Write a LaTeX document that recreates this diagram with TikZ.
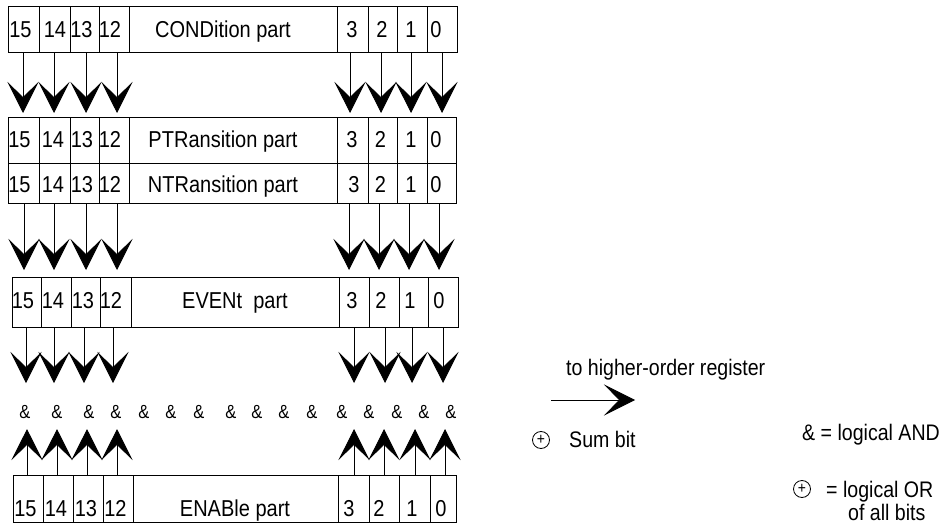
\documentclass[tikz,border=0pt]{standalone}
\usepackage{fontspec}
\setmainfont[FakeStretch=0.87]{Liberation Sans}
\usetikzlibrary{arrows.meta}
\tikzset{
  regbox/.style={draw, line width=1pt},
  bittxt/.style={anchor=base, inner sep=0pt, font=\fontsize{23}{24}\selectfont},
  andtxt/.style={anchor=base, inner sep=0pt, font=\fontsize{19}{20}\selectfont},
  legtxt/.style={anchor=base west, inner sep=0pt, font=\fontsize{22.5}{24}\selectfont},
  bitarrow/.style={line width=0.8pt, -{Stealth[length=31pt,width=31pt,inset=15pt]}},
  orsym/.style={circle, draw, line width=0.8pt, inner sep=0pt, minimum size=17pt, font=\fontsize{16}{16}\selectfont}
}
\begin{document}
\begin{tikzpicture}[x=1pt,y=-1pt]
\useasboundingbox (0,0) rectangle (946,527);

% ---------- CONDition ----------
\draw[regbox] (8,7) rectangle (457,53);
\foreach \x in {39,70,99,129,337,368,397,427} \draw[regbox] (\x,7) -- (\x,53);
\node[bittxt] (c15) at (20.5,38) {15};
\node[bittxt] (c14) at (55,38) {14};
\node[bittxt] (c13) at (81.5,38) {13};
\node[bittxt] (c12) at (110,38) {12};
\node[bittxt] (cname) at (223,38) {CONDition part};
\node[bittxt] (c3) at (352,38) {3};
\node[bittxt] (c2) at (382,38) {2};
\node[bittxt] (c1) at (411,38) {1};
\node[bittxt] (c0) at (436,38) {0};

% ---------- PTRansition / NTRansition ----------
\draw[regbox] (8,118) rectangle (456,203);
\draw[regbox] (8,163) -- (456,163);
\foreach \x in {39,70,99,129,337,368,397,427} \draw[regbox] (\x,118) -- (\x,203);
\node[bittxt] (p15) at (19.5,147) {15};
\node[bittxt] (p14) at (53,147) {14};
\node[bittxt] (p13) at (82,147) {13};
\node[bittxt] (p12) at (110,147) {12};
\node[bittxt] (pname) at (223,147) {PTRansition part};
\node[bittxt] (p3) at (352,147) {3};
\node[bittxt] (p2) at (380.5,147) {2};
\node[bittxt] (p1) at (411,147) {1};
\node[bittxt] (p0) at (436,147) {0};
\node[bittxt] (n15) at (19.5,192) {15};
\node[bittxt] (n14) at (53,192) {14};
\node[bittxt] (n13) at (82,192) {13};
\node[bittxt] (n12) at (110,192) {12};
\node[bittxt] (nname) at (223,192) {NTRansition part};
\node[bittxt] (n3) at (354,192) {3};
\node[bittxt] (n2) at (380.5,192) {2};
\node[bittxt] (n1) at (411,192) {1};
\node[bittxt] (n0) at (436,192) {0};

% ---------- EVENt ----------
\draw[regbox] (12,277) rectangle (458,327);
\foreach \x in {41,71,100,131,339,369,399,428} \draw[regbox] (\x,277) -- (\x,327);
\node[bittxt] (e15) at (23,308) {15};
\node[bittxt] (e14) at (53,308) {14};
\node[bittxt] (e13) at (83,308) {13};
\node[bittxt] (e12) at (111,308) {12};
\node[bittxt] (ename) at (235,308) {EVENt\ \ part};
\node[bittxt] (e3) at (352,308) {3};
\node[bittxt] (e2) at (381,308) {2};
\node[bittxt] (e1) at (410,308) {1};
\node[bittxt] (e0) at (439,308) {0};

% ---------- ENABle ----------
\draw[regbox] (13,475) rectangle (456,522);
\foreach \x in {43,73,103,133,338,369,399,430} \draw[regbox] (\x,475) -- (\x,522);
\node[bittxt] (b15) at (25.5,516) {15};
\node[bittxt] (b14) at (56,516) {14};
\node[bittxt] (b13) at (86,516) {13};
\node[bittxt] (b12) at (115.5,516) {12};
\node[bittxt] (bname) at (235,516) {ENABle part};
\node[bittxt] (b3) at (349,516) {3};
\node[bittxt] (b2) at (379,516) {2};
\node[bittxt] (b1) at (412,516) {1};
\node[bittxt] (b0) at (441,516) {0};

% ---------- & row ----------
\foreach \x [count=\i] in {25,57,89,116,144,171,199,231,257,284,312,342,369,397,424,451}
  \node[andtxt] (and\i) at (\x,418) {\&};

% ---------- arrows ----------
\foreach \x [count=\i] in {23,54,86,117,350,381,411,442} {
  \coordinate (ca\i) at (\x,53); \coordinate (ct\i) at (\x,113);
  \draw[bitarrow] (ca\i) -- (ct\i);
}
\foreach \x [count=\i] in {24,54,86,117,349,379,409,439} {
  \coordinate (na\i) at (\x,203); \coordinate (nt\i) at (\x,270);
  \draw[bitarrow] (na\i) -- (nt\i);
}
\foreach \x [count=\i] in {26,54,84,113,354,385,412,443} {
  \coordinate (ea\i) at (\x,327); \coordinate (et\i) at (\x,383);
  \draw[bitarrow] (ea\i) -- (et\i);
}
\foreach \x [count=\i] in {27,57,87,117,354,384,415,445} {
  \coordinate (ba\i) at (\x,475); \coordinate (bt\i) at (\x,429);
  \draw[bitarrow] (ba\i) -- (bt\i);
}

% ---------- legend ----------
\node[legtxt] (higher) at (566,375) {to higher-order register};
\coordinate (hs) at (551,400);
\coordinate (he) at (635,400);
\draw[bitarrow] (hs) -- (he);
\node[orsym] (sumsym) at (541,440) {+};
\node[legtxt] (sumbit) at (569,447) {Sum bit};
\node[legtxt] (andleg) at (802,440) {\& = logical AND};
\node[orsym] (orsymb) at (802,489) {+};
\node[legtxt] (orleg) at (826,497) {= logical OR};
\node[legtxt] (orleg2) at (848,520) {of all bits};
\end{tikzpicture}
\end{document}
